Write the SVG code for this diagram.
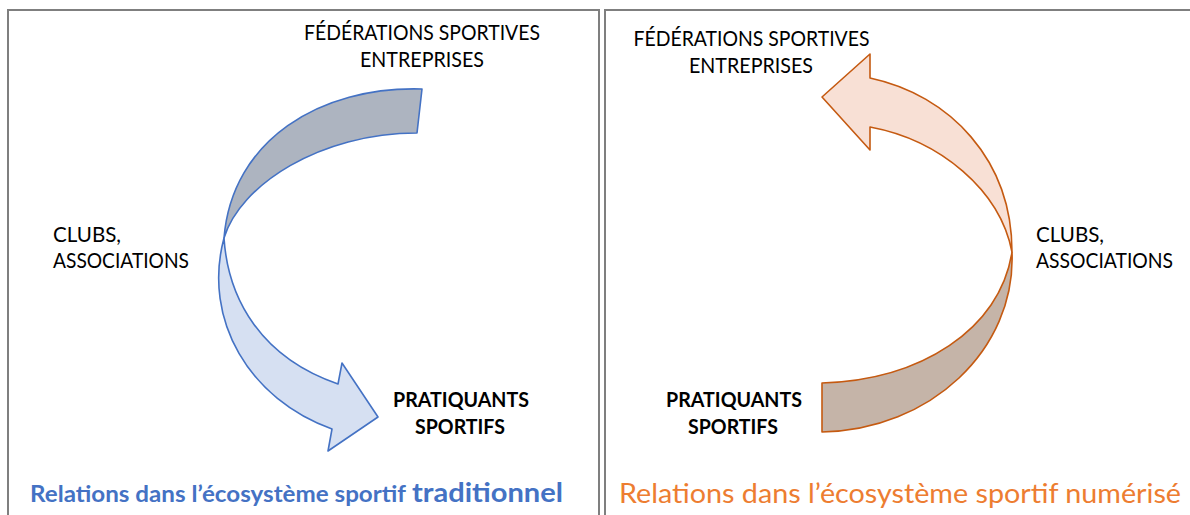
<svg xmlns="http://www.w3.org/2000/svg" width="1190" height="515" viewBox="0 0 1190 515">
  <style>
    .frame { fill: #ffffff; stroke: #7f7f7f; stroke-width: 2; }
    .lbl { font-family: Lato, "Liberation Sans", sans-serif; font-size: 21px; fill: #000000; }
    .bold { font-weight: bold; }
    .mid { text-anchor: middle; }
    .blueStroke { stroke: #4472c4; stroke-width: 1.6; stroke-linejoin: round; }
    .orangeStroke { stroke: #c55a11; stroke-width: 1.6; stroke-linejoin: round; }
    .tblue { font-family: Lato, "Liberation Sans", sans-serif; font-weight: bold; fill: #4472c4; }
    .torange { font-family: Lato, "Liberation Sans", sans-serif; fill: #ed7d31; }
  </style>
  <rect width="1190" height="515" fill="#ffffff"/>
  <g id="panels">
    <rect class="frame" x="8" y="10" width="591" height="530"/>
    <rect class="frame" x="605" y="10" width="600" height="530"/>
  </g>

  <g id="connectors">
    <!-- left panel: traditional -->
    <path id="left-back" class="blueStroke" fill="#adb4c0" d="M 422,89 C 320,86 232,140 224,238 C 240,185 320,133 417,133 Z"/>
    <path id="left-front" class="blueStroke" fill="#d6e0f2" d="M 224,238 C 228,300 262,358 338,384 L 342,363 L 378,417 L 328,451 L 332,429 C 250,400 202,320 224,238 Z"/>
    <!-- right panel: digital -->
    <path id="right-back" class="orangeStroke" fill="#c5b4a8" d="M 1012,252 C 1016,350 930,430 822,432 L 822,383 C 920,380 1000,330 1012,252 Z"/>
    <path id="right-front" class="orangeStroke" fill="#f8e0d5" d="M 1012,252 C 1012,160 950,95 870,78 L 870,54 L 822,97 L 870,150 L 870,127 C 940,140 1000,190 1012,252 Z"/>
  </g>

  <g id="node-left-federations">
    <text class="lbl mid" x="422" y="40" textLength="236" lengthAdjust="spacingAndGlyphs">FÉDÉRATIONS SPORTIVES</text>
    <text class="lbl mid" x="422" y="66.5" textLength="124" lengthAdjust="spacingAndGlyphs">ENTREPRISES</text>
  </g>
  <g id="node-left-clubs">
    <text class="lbl" x="53" y="241.5" textLength="68" lengthAdjust="spacingAndGlyphs">CLUBS,</text>
    <text class="lbl" x="53" y="268" textLength="136" lengthAdjust="spacingAndGlyphs">ASSOCIATIONS</text>
  </g>
  <g id="node-left-pratiquants">
    <text class="lbl bold mid" x="461" y="406.5" textLength="136" lengthAdjust="spacingAndGlyphs">PRATIQUANTS</text>
    <text class="lbl bold mid" x="460" y="434" textLength="90" lengthAdjust="spacingAndGlyphs">SPORTIFS</text>
  </g>
  <g id="node-left-title">
    <text class="tblue" x="30" y="502" font-size="23" textLength="376" lengthAdjust="spacingAndGlyphs">Relations dans l’écosystème sportif</text>
    <text class="tblue" x="412" y="502" font-size="27" textLength="151" lengthAdjust="spacingAndGlyphs">traditionnel</text>
  </g>

  <g id="node-right-federations">
    <text class="lbl mid" x="751.5" y="46" textLength="236" lengthAdjust="spacingAndGlyphs">FÉDÉRATIONS SPORTIVES</text>
    <text class="lbl mid" x="751" y="72.5" textLength="124" lengthAdjust="spacingAndGlyphs">ENTREPRISES</text>
  </g>
  <g id="node-right-clubs">
    <text class="lbl" x="1036" y="241.5" textLength="68" lengthAdjust="spacingAndGlyphs">CLUBS,</text>
    <text class="lbl" x="1036" y="268" textLength="137" lengthAdjust="spacingAndGlyphs">ASSOCIATIONS</text>
  </g>
  <g id="node-right-pratiquants">
    <text class="lbl bold mid" x="734" y="406.5" textLength="136" lengthAdjust="spacingAndGlyphs">PRATIQUANTS</text>
    <text class="lbl bold mid" x="733" y="434" textLength="90" lengthAdjust="spacingAndGlyphs">SPORTIFS</text>
  </g>
  <g id="node-right-title">
    <text class="torange" x="619" y="503" font-size="26" textLength="562" lengthAdjust="spacingAndGlyphs">Relations dans l’écosystème sportif numérisé</text>
  </g>
</svg>
